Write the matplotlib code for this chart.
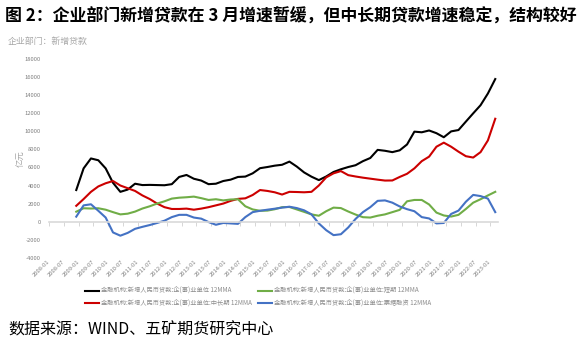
import matplotlib
matplotlib.use("Agg")
import matplotlib.pyplot as plt
import pandas as pd
import numpy as np

plt.rcParams['font.family'] = ['Noto Sans CJK SC', 'DejaVu Sans']

# quarterly sample dates (2008-12 .. 2023-03)
dates = pd.date_range(start="2008-12-01", end="2023-03-01", freq="3MS")

total_12mma = [3500, 5900, 7000, 6800, 5900, 4300, 3300, 3550, 4200, 4050,
               4070, 4050, 4030, 4150, 4950, 5170, 4750, 4550, 4150, 4200,
               4500, 4650, 4950, 4990, 5350, 5920, 6050, 6200, 6300, 6650,
               6100, 5450, 4980, 4600, 5000, 5500, 5800, 6050, 6250, 6700,
               7050, 7950, 7850, 7700, 7900, 8550, 9970, 9900, 10100, 9800,
               9350, 10000, 10150, 11080, 12000, 12900, 14200, 15800]
long_12mma = [1750, 2500, 3300, 3900, 4250, 4500, 4000, 3700, 3400, 2900,
              2500, 2000, 1600, 1400, 1400, 1440, 1320, 1440, 1600, 1800,
              2000, 2300, 2520, 2580, 2950, 3500, 3400, 3250, 3000, 3300,
              3280, 3250, 3300, 4000, 4900, 5350, 5600, 5150, 5000, 4870,
              4760, 4650, 4550, 4560, 4950, 5300, 5900, 6700, 7200, 8300,
              8750, 8300, 7750, 7250, 7100, 7700, 9000, 11400]
short_12mma = [1100, 1480, 1450, 1480, 1320, 1050, 800, 880, 1110, 1450,
               1700, 2000, 2250, 2550, 2650, 2700, 2770, 2600, 2400, 2480,
               2350, 2450, 2480, 1700, 1350, 1200, 1220, 1370, 1600, 1620,
               1350, 1080, 800, 650, 1150, 1550, 1500, 1120, 780, 490,
               450, 650, 800, 1050, 1300, 2250, 2400, 2400, 1900, 1000,
               680, 560, 750, 1400, 2100, 2480, 2900, 3300]
bill_12mma = [550, 1800, 1920, 1200, 450, -1200, -1560, -1250, -800, -580,
              -380, -150, 100, 500, 750, 750, 450, 330, -50, -350,
              -150, -200, -250, 500, 1050, 1200, 1320, 1430, 1550, 1650,
              1500, 1250, 800, -200, -950, -1500, -1400, -650, 300, 1050,
              1600, 2300, 2350, 2100, 1680, 1380, 1150, 500, 350, -200,
              -150, 850, 1220, 2200, 2960, 2830, 2550, 1050]

tick_dates = pd.date_range(start="2008-01-01", end="2023-01-01", freq="6MS")
tick_labels = [d.strftime("%Y-%m") for d in tick_dates]

labels = ["金融机构:新增人民币贷款:企(事)业单位 12MMA",
          "金融机构:新增人民币贷款:企(事)业单位:中长期 12MMA",
          "金融机构:新增人民币贷款:企(事)业单位:短期 12MMA",
          "金融机构:新增人民币贷款:企(事)业单位:票据融资 12MMA"]
colors = ["#000000", "#cc0000", "#70ad47", "#4472c4"]

def month_index(d):
    return (d.year - 2008) * 12 + d.month - 1

x = np.array([month_index(d) for d in dates])
xt = np.array([month_index(d) for d in tick_dates])

W, H = 579, 348
fig = plt.figure(figsize=(W / 100, H / 100), dpi=100)
ax = fig.add_axes([49.3 / W, 1 - 257.7 / H, 448.4 / W, (257.7 - 59.2) / H])

handles = []
for ser, c in zip([total_12mma, long_12mma, short_12mma, bill_12mma], colors):
    h, = ax.plot(x, ser, color=c, lw=1.5, solid_joinstyle='round')
    handles.append(h)

ax.set_xlim(0, 183)
ax.set_ylim(-4000, 18000)
yt = np.arange(-4000, 18001, 2000)
ax.set_yticks(yt)
ax.set_yticklabels([str(v) for v in yt])
ax.tick_params(axis='y', length=0, labelsize=4.2, labelcolor='#7f7f7f', pad=6)

for s in ['left', 'right', 'top']:
    ax.spines[s].set_visible(False)
ax.spines['bottom'].set_position(('data', 0))
ax.spines['bottom'].set_color('#d9d9d9')
ax.spines['bottom'].set_linewidth(1.2)
ax.set_xticks(xt)
ax.tick_params(axis='x', length=3, width=0.6, color='#d0d0d0', labelbottom=False)

sec = ax.secondary_xaxis(0)
sec.set_xticks(xt)
sec.set_xticklabels(tick_labels)
sec.tick_params(length=0, labelsize=4.2, labelcolor='#7f7f7f', pad=2)
sec.spines['bottom'].set_visible(False)
for lbl in sec.get_xticklabels():
    lbl.set_rotation(45)
    lbl.set_ha('right')
    lbl.set_va('center')
    lbl.set_rotation_mode('anchor')

fig.text(5 / W, 1 - 17 / H,
         "图 2：企业部门新增贷款在 3 月增速暂缓，但中长期贷款增速稳定，结构较好",
         fontsize=12.2, fontweight='bold', va='center', ha='left')
fig.text(8 / W, 1 - 41 / H, "企业部门：新增贷款", fontsize=6.4,
         color='#a6a6a6', va='center', ha='left')
fig.text(20.5 / W, 1 - 159 / H, "亿元", fontsize=6, rotation=90,
         color='#a6a6a6', va='center', ha='center')

fig.legend(handles, labels,
           loc='upper left', bbox_to_anchor=(85 / W, 1 - 287 / H), ncol=2,
           frameon=False, fontsize=4.5, handlelength=2.24, handletextpad=0.27,
           columnspacing=1.1, labelspacing=0.7, borderpad=0, borderaxespad=0,
           labelcolor='#8c8c8c')

fig.text(8 / W, 1 - 330 / H, "数据来源：WIND、五矿期货研究中心", fontsize=11.5,
         va='center', ha='left')

fig.savefig("out.png", dpi=100)
